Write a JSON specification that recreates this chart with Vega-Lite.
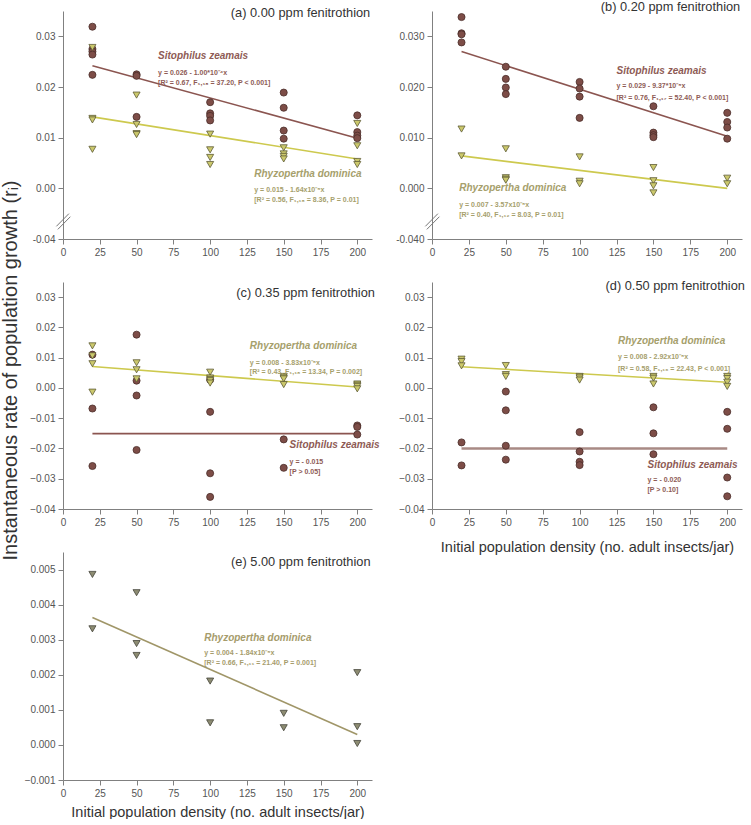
{
  "$schema": "https://vega.github.io/schema/vega-lite/v6.json",
  "background": "white",
  "padding": {"left": 0, "top": 0, "right": 0, "bottom": 0},
  "config": {
    "view": {"stroke": null},
    "axis": {"grid": false, "domainColor": "#808080", "tickColor": "#808080", "labelColor": "#555555", "labelFont": "Liberation Sans", "labelFontSize": 10, "tickSize": 5, "labelPadding": 3, "labelFlush": false, "titleFont": "Liberation Sans", "titleFontWeight": "normal", "titleColor": "#333333", "titleFontSize": 14.5}
  },
  "datasets": {
    "one": [{"k": 1}],
    "pts": [
      {"panel":"a","species":"Sitophilus zeamais","density":20,"r":0.0319},
      {"panel":"a","species":"Sitophilus zeamais","density":20,"r":0.0275},
      {"panel":"a","species":"Sitophilus zeamais","density":20,"r":0.0270},
      {"panel":"a","species":"Sitophilus zeamais","density":20,"r":0.0264},
      {"panel":"a","species":"Sitophilus zeamais","density":20,"r":0.0224},
      {"panel":"a","species":"Sitophilus zeamais","density":50,"r":0.0225},
      {"panel":"a","species":"Sitophilus zeamais","density":50,"r":0.0222},
      {"panel":"a","species":"Sitophilus zeamais","density":50,"r":0.0141},
      {"panel":"a","species":"Sitophilus zeamais","density":100,"r":0.0170},
      {"panel":"a","species":"Sitophilus zeamais","density":100,"r":0.0148},
      {"panel":"a","species":"Sitophilus zeamais","density":100,"r":0.0143},
      {"panel":"a","species":"Sitophilus zeamais","density":100,"r":0.0134},
      {"panel":"a","species":"Sitophilus zeamais","density":150,"r":0.0189},
      {"panel":"a","species":"Sitophilus zeamais","density":150,"r":0.0159},
      {"panel":"a","species":"Sitophilus zeamais","density":150,"r":0.0114},
      {"panel":"a","species":"Sitophilus zeamais","density":150,"r":0.0098},
      {"panel":"a","species":"Sitophilus zeamais","density":200,"r":0.0144},
      {"panel":"a","species":"Sitophilus zeamais","density":200,"r":0.0111},
      {"panel":"a","species":"Sitophilus zeamais","density":200,"r":0.0104},
      {"panel":"a","species":"Sitophilus zeamais","density":200,"r":0.0099},
      {"panel":"a","species":"Rhyzopertha dominica","density":20,"r":0.0278},
      {"panel":"a","species":"Rhyzopertha dominica","density":20,"r":0.0138},
      {"panel":"a","species":"Rhyzopertha dominica","density":20,"r":0.0135},
      {"panel":"a","species":"Rhyzopertha dominica","density":20,"r":0.0077},
      {"panel":"a","species":"Rhyzopertha dominica","density":50,"r":0.0184},
      {"panel":"a","species":"Rhyzopertha dominica","density":50,"r":0.0126},
      {"panel":"a","species":"Rhyzopertha dominica","density":50,"r":0.0108},
      {"panel":"a","species":"Rhyzopertha dominica","density":50,"r":0.0106},
      {"panel":"a","species":"Rhyzopertha dominica","density":100,"r":0.0107},
      {"panel":"a","species":"Rhyzopertha dominica","density":100,"r":0.0076},
      {"panel":"a","species":"Rhyzopertha dominica","density":100,"r":0.0061},
      {"panel":"a","species":"Rhyzopertha dominica","density":100,"r":0.0047},
      {"panel":"a","species":"Rhyzopertha dominica","density":150,"r":0.0080},
      {"panel":"a","species":"Rhyzopertha dominica","density":150,"r":0.0068},
      {"panel":"a","species":"Rhyzopertha dominica","density":150,"r":0.0063},
      {"panel":"a","species":"Rhyzopertha dominica","density":150,"r":0.0058},
      {"panel":"a","species":"Rhyzopertha dominica","density":200,"r":0.0128},
      {"panel":"a","species":"Rhyzopertha dominica","density":200,"r":0.0084},
      {"panel":"a","species":"Rhyzopertha dominica","density":200,"r":0.0053},
      {"panel":"a","species":"Rhyzopertha dominica","density":200,"r":0.0047},

      {"panel":"b","species":"Sitophilus zeamais","density":20,"r":0.0338},
      {"panel":"b","species":"Sitophilus zeamais","density":20,"r":0.0306},
      {"panel":"b","species":"Sitophilus zeamais","density":20,"r":0.0304},
      {"panel":"b","species":"Sitophilus zeamais","density":20,"r":0.0288},
      {"panel":"b","species":"Sitophilus zeamais","density":50,"r":0.0240},
      {"panel":"b","species":"Sitophilus zeamais","density":50,"r":0.0216},
      {"panel":"b","species":"Sitophilus zeamais","density":50,"r":0.0199},
      {"panel":"b","species":"Sitophilus zeamais","density":50,"r":0.0186},
      {"panel":"b","species":"Sitophilus zeamais","density":100,"r":0.0210},
      {"panel":"b","species":"Sitophilus zeamais","density":100,"r":0.0197},
      {"panel":"b","species":"Sitophilus zeamais","density":100,"r":0.0181},
      {"panel":"b","species":"Sitophilus zeamais","density":100,"r":0.0139},
      {"panel":"b","species":"Sitophilus zeamais","density":150,"r":0.0162},
      {"panel":"b","species":"Sitophilus zeamais","density":150,"r":0.0110},
      {"panel":"b","species":"Sitophilus zeamais","density":150,"r":0.0105},
      {"panel":"b","species":"Sitophilus zeamais","density":150,"r":0.0101},
      {"panel":"b","species":"Sitophilus zeamais","density":200,"r":0.0149},
      {"panel":"b","species":"Sitophilus zeamais","density":200,"r":0.0131},
      {"panel":"b","species":"Sitophilus zeamais","density":200,"r":0.0120},
      {"panel":"b","species":"Sitophilus zeamais","density":200,"r":0.0098},
      {"panel":"b","species":"Rhyzopertha dominica","density":20,"r":0.0117},
      {"panel":"b","species":"Rhyzopertha dominica","density":20,"r":0.0064},
      {"panel":"b","species":"Rhyzopertha dominica","density":50,"r":0.0078},
      {"panel":"b","species":"Rhyzopertha dominica","density":50,"r":0.0021},
      {"panel":"b","species":"Rhyzopertha dominica","density":50,"r":0.0018},
      {"panel":"b","species":"Rhyzopertha dominica","density":50,"r":0.0016},
      {"panel":"b","species":"Rhyzopertha dominica","density":100,"r":0.0062},
      {"panel":"b","species":"Rhyzopertha dominica","density":100,"r":0.0014},
      {"panel":"b","species":"Rhyzopertha dominica","density":100,"r":0.0009},
      {"panel":"b","species":"Rhyzopertha dominica","density":150,"r":0.0041},
      {"panel":"b","species":"Rhyzopertha dominica","density":150,"r":0.0015},
      {"panel":"b","species":"Rhyzopertha dominica","density":150,"r":0.0005},
      {"panel":"b","species":"Rhyzopertha dominica","density":150,"r":-0.0009},
      {"panel":"b","species":"Rhyzopertha dominica","density":200,"r":0.0020},
      {"panel":"b","species":"Rhyzopertha dominica","density":200,"r":0.0009},

      {"panel":"c","species":"Sitophilus zeamais","density":20,"r":0.0110},
      {"panel":"c","species":"Sitophilus zeamais","density":20,"r":-0.0068},
      {"panel":"c","species":"Sitophilus zeamais","density":20,"r":-0.0258},
      {"panel":"c","species":"Sitophilus zeamais","density":50,"r":0.0176},
      {"panel":"c","species":"Sitophilus zeamais","density":50,"r":0.0024},
      {"panel":"c","species":"Sitophilus zeamais","density":50,"r":-0.0025},
      {"panel":"c","species":"Sitophilus zeamais","density":50,"r":-0.0205},
      {"panel":"c","species":"Sitophilus zeamais","density":100,"r":0.0027},
      {"panel":"c","species":"Sitophilus zeamais","density":100,"r":-0.0079},
      {"panel":"c","species":"Sitophilus zeamais","density":100,"r":-0.0282},
      {"panel":"c","species":"Sitophilus zeamais","density":100,"r":-0.0360},
      {"panel":"c","species":"Sitophilus zeamais","density":150,"r":-0.0170},
      {"panel":"c","species":"Sitophilus zeamais","density":150,"r":-0.0264},
      {"panel":"c","species":"Sitophilus zeamais","density":200,"r":-0.0124},
      {"panel":"c","species":"Sitophilus zeamais","density":200,"r":-0.0129},
      {"panel":"c","species":"Sitophilus zeamais","density":200,"r":-0.0154},
      {"panel":"c","species":"Rhyzopertha dominica","density":20,"r":0.0139},
      {"panel":"c","species":"Rhyzopertha dominica","density":20,"r":0.0106},
      {"panel":"c","species":"Rhyzopertha dominica","density":20,"r":0.0080},
      {"panel":"c","species":"Rhyzopertha dominica","density":20,"r":-0.0014},
      {"panel":"c","species":"Rhyzopertha dominica","density":50,"r":0.0083},
      {"panel":"c","species":"Rhyzopertha dominica","density":50,"r":0.0060},
      {"panel":"c","species":"Rhyzopertha dominica","density":50,"r":0.0030},
      {"panel":"c","species":"Rhyzopertha dominica","density":100,"r":0.0052},
      {"panel":"c","species":"Rhyzopertha dominica","density":100,"r":0.0033},
      {"panel":"c","species":"Rhyzopertha dominica","density":100,"r":0.0028},
      {"panel":"c","species":"Rhyzopertha dominica","density":100,"r":0.0024},
      {"panel":"c","species":"Rhyzopertha dominica","density":100,"r":0.0016},
      {"panel":"c","species":"Rhyzopertha dominica","density":150,"r":0.0038},
      {"panel":"c","species":"Rhyzopertha dominica","density":150,"r":0.0033},
      {"panel":"c","species":"Rhyzopertha dominica","density":150,"r":0.0030},
      {"panel":"c","species":"Rhyzopertha dominica","density":150,"r":0.0011},
      {"panel":"c","species":"Rhyzopertha dominica","density":200,"r":0.0013},
      {"panel":"c","species":"Rhyzopertha dominica","density":200,"r":0.0009},
      {"panel":"c","species":"Rhyzopertha dominica","density":200,"r":0.0005},
      {"panel":"c","species":"Rhyzopertha dominica","density":200,"r":-0.0003},

      {"panel":"d","species":"Sitophilus zeamais","density":20,"r":-0.0180},
      {"panel":"d","species":"Sitophilus zeamais","density":20,"r":-0.0256},
      {"panel":"d","species":"Sitophilus zeamais","density":50,"r":-0.0012},
      {"panel":"d","species":"Sitophilus zeamais","density":50,"r":-0.0074},
      {"panel":"d","species":"Sitophilus zeamais","density":50,"r":-0.0191},
      {"panel":"d","species":"Sitophilus zeamais","density":50,"r":-0.0237},
      {"panel":"d","species":"Sitophilus zeamais","density":100,"r":-0.0146},
      {"panel":"d","species":"Sitophilus zeamais","density":100,"r":-0.0210},
      {"panel":"d","species":"Sitophilus zeamais","density":100,"r":-0.0244},
      {"panel":"d","species":"Sitophilus zeamais","density":100,"r":-0.0255},
      {"panel":"d","species":"Sitophilus zeamais","density":150,"r":-0.0064},
      {"panel":"d","species":"Sitophilus zeamais","density":150,"r":-0.0150},
      {"panel":"d","species":"Sitophilus zeamais","density":150,"r":-0.0219},
      {"panel":"d","species":"Sitophilus zeamais","density":200,"r":-0.0079},
      {"panel":"d","species":"Sitophilus zeamais","density":200,"r":-0.0135},
      {"panel":"d","species":"Sitophilus zeamais","density":200,"r":-0.0296},
      {"panel":"d","species":"Sitophilus zeamais","density":200,"r":-0.0358},
      {"panel":"d","species":"Rhyzopertha dominica","density":20,"r":0.0095},
      {"panel":"d","species":"Rhyzopertha dominica","density":20,"r":0.0087},
      {"panel":"d","species":"Rhyzopertha dominica","density":20,"r":0.0073},
      {"panel":"d","species":"Rhyzopertha dominica","density":50,"r":0.0074},
      {"panel":"d","species":"Rhyzopertha dominica","density":50,"r":0.0044},
      {"panel":"d","species":"Rhyzopertha dominica","density":50,"r":0.0038},
      {"panel":"d","species":"Rhyzopertha dominica","density":100,"r":0.0038},
      {"panel":"d","species":"Rhyzopertha dominica","density":100,"r":0.0033},
      {"panel":"d","species":"Rhyzopertha dominica","density":100,"r":0.0026},
      {"panel":"d","species":"Rhyzopertha dominica","density":150,"r":0.0038},
      {"panel":"d","species":"Rhyzopertha dominica","density":150,"r":0.0032},
      {"panel":"d","species":"Rhyzopertha dominica","density":150,"r":0.0013},
      {"panel":"d","species":"Rhyzopertha dominica","density":200,"r":0.0038},
      {"panel":"d","species":"Rhyzopertha dominica","density":200,"r":0.0031},
      {"panel":"d","species":"Rhyzopertha dominica","density":200,"r":0.0019},
      {"panel":"d","species":"Rhyzopertha dominica","density":200,"r":0.0005},

      {"panel":"e","species":"Rhyzopertha dominica","density":20,"r":0.00486},
      {"panel":"e","species":"Rhyzopertha dominica","density":20,"r":0.00331},
      {"panel":"e","species":"Rhyzopertha dominica","density":50,"r":0.00434},
      {"panel":"e","species":"Rhyzopertha dominica","density":50,"r":0.00289},
      {"panel":"e","species":"Rhyzopertha dominica","density":50,"r":0.00255},
      {"panel":"e","species":"Rhyzopertha dominica","density":100,"r":0.00182},
      {"panel":"e","species":"Rhyzopertha dominica","density":100,"r":0.00063},
      {"panel":"e","species":"Rhyzopertha dominica","density":150,"r":0.00090},
      {"panel":"e","species":"Rhyzopertha dominica","density":150,"r":0.00049},
      {"panel":"e","species":"Rhyzopertha dominica","density":200,"r":0.00206},
      {"panel":"e","species":"Rhyzopertha dominica","density":200,"r":0.00052},
      {"panel":"e","species":"Rhyzopertha dominica","density":200,"r":0.00004}
    ],
    "fits": [
      {"panel":"a","species":"Sitophilus zeamais","density":20,"r":0.0242},
      {"panel":"a","species":"Sitophilus zeamais","density":200,"r":0.0099},
      {"panel":"a","species":"Rhyzopertha dominica","density":20,"r":0.0141},
      {"panel":"a","species":"Rhyzopertha dominica","density":200,"r":0.0058},
      {"panel":"b","species":"Sitophilus zeamais","density":20,"r":0.0270},
      {"panel":"b","species":"Sitophilus zeamais","density":200,"r":0.0103},
      {"panel":"b","species":"Rhyzopertha dominica","density":20,"r":0.0064},
      {"panel":"b","species":"Rhyzopertha dominica","density":200,"r":0.0000},
      {"panel":"c","species":"Sitophilus zeamais","density":20,"r":-0.0151},
      {"panel":"c","species":"Sitophilus zeamais","density":200,"r":-0.0151},
      {"panel":"c","species":"Rhyzopertha dominica","density":20,"r":0.0071},
      {"panel":"c","species":"Rhyzopertha dominica","density":200,"r":0.0003},
      {"panel":"d","species":"Sitophilus zeamais","density":20,"r":-0.0200},
      {"panel":"d","species":"Sitophilus zeamais","density":200,"r":-0.0200},
      {"panel":"d","species":"Rhyzopertha dominica","density":20,"r":0.0070},
      {"panel":"d","species":"Rhyzopertha dominica","density":200,"r":0.0019},
      {"panel":"e","species":"Rhyzopertha dominica","density":20,"r":0.00363},
      {"panel":"e","species":"Rhyzopertha dominica","density":200,"r":0.00030}
    ]
  },
  "bounds": "flush",
  "columns": 2,
  "spacing": {"row": 43, "column": 60},
  "concat": [
        {
          "width": 309, "height": 228,
          "layer": [
            {"data": {"name": "fits"}, "transform": [{"filter": "datum.panel == 'a'"}], "mark": {"type": "line", "strokeWidth": 1.6},
             "encoding": {
               "x": {"field": "density", "type": "quantitative", "scale": {"domain": [0, 210], "nice": false, "zero": false}, "axis": {"values": [0,25,50,75,100,125,150,175,200], "title": null}},
               "y": {"field": "r", "type": "quantitative", "scale": {"domain": [-0.01, 0.035], "nice": false, "zero": false}, "axis": {"values": [-0.01, 0, 0.01, 0.02, 0.03], "labelExpr": "datum.value < -0.005 ? '-0.04' : format(datum.value, '.2f')", "title": null}},
               "detail": {"field": "species"}, "color": {"condition": {"test": "datum.species == 'Sitophilus zeamais'", "value": "#8b5550"}, "value": "#cdc94e"}}},
            {"data": {"name": "pts"}, "transform": [{"filter": "datum.panel == 'a'"}], "mark": {"type": "point", "filled": true, "size": 50, "strokeWidth": 0.8, "opacity": 1},
             "encoding": {
               "x": {"field": "density", "type": "quantitative", "axis": {"values": [0,25,50,75,100,125,150,175,200], "title": null}},
               "y": {"field": "r", "type": "quantitative", "axis": {"values": [-0.01, 0, 0.01, 0.02, 0.03], "labelExpr": "datum.value < -0.005 ? '-0.04' : format(datum.value, '.2f')", "title": null}},
               "shape": {"condition": {"test": "datum.species == 'Sitophilus zeamais'", "value": "circle"}, "value": "triangle-down"},
               "fill": {"condition": {"test": "datum.species == 'Sitophilus zeamais'", "value": "#7d4d47"}, "value": "#cbc86c"},
               "stroke": {"condition": {"test": "datum.species == 'Sitophilus zeamais'", "value": "#4a2d29"}, "value": "#5e5c36"}}},
            {"data": {"name": "one"}, "mark": {"type": "text", "text": "(a) 0.00 ppm fenitrothion", "align": "right", "baseline": "middle", "font": "Liberation Sans", "fontSize": 12.8, "color": "#333333"},
             "encoding": {"x": {"datum": 208.8, "axis": {"values": [0,25,50,75,100,125,150,175,200], "title": null}}, "y": {"datum": 0.0346, "axis": {"values": [-0.01, 0, 0.01, 0.02, 0.03], "labelExpr": "datum.value < -0.005 ? '-0.04' : format(datum.value, '.2f')", "title": null}}}},
            {"data": {"name": "one"}, "mark": {"type": "text", "text": "Sitophilus zeamais", "align": "left", "baseline": "middle", "font": "Liberation Sans", "fontSize": 10, "fontWeight": "bold", "fontStyle": "italic", "color": "#8e5b55"},
             "encoding": {"x": {"datum": 64.6, "axis": {"values": [0,25,50,75,100,125,150,175,200], "title": null}}, "y": {"datum": 0.0262, "axis": {"values": [-0.01, 0, 0.01, 0.02, 0.03], "labelExpr": "datum.value < -0.005 ? '-0.04' : format(datum.value, '.2f')", "title": null}}}},
            {"data": {"name": "one"}, "mark": {"type": "text", "text": ["y = 0.026 - 1.00*10⁻⁴x", "[R² = 0.67, F₁,₁₈ = 37.20, P < 0.001]"], "lineHeight": 10, "align": "left", "baseline": "middle", "font": "Liberation Sans", "fontSize": 7, "fontWeight": "bold", "color": "#8e5b55"},
             "encoding": {"x": {"datum": 64.6, "axis": {"values": [0,25,50,75,100,125,150,175,200], "title": null}}, "y": {"datum": 0.0228, "axis": {"values": [-0.01, 0, 0.01, 0.02, 0.03], "labelExpr": "datum.value < -0.005 ? '-0.04' : format(datum.value, '.2f')", "title": null}}}},
            {"data": {"name": "one"}, "mark": {"type": "text", "text": "Rhyzopertha dominica", "align": "left", "baseline": "middle", "font": "Liberation Sans", "fontSize": 10, "fontWeight": "bold", "fontStyle": "italic", "color": "#a6a06c"},
             "encoding": {"x": {"datum": 130, "axis": {"values": [0,25,50,75,100,125,150,175,200], "title": null}}, "y": {"datum": 0.0028, "axis": {"values": [-0.01, 0, 0.01, 0.02, 0.03], "labelExpr": "datum.value < -0.005 ? '-0.04' : format(datum.value, '.2f')", "title": null}}}},
            {"data": {"name": "one"}, "mark": {"type": "text", "text": ["y = 0.015 - 1.64x10⁻⁵x", "[R² = 0.56, F₁,₁₈ = 8.36, P = 0.01]"], "lineHeight": 10, "align": "left", "baseline": "middle", "font": "Liberation Sans", "fontSize": 7, "fontWeight": "bold", "color": "#a6a06c"},
             "encoding": {"x": {"datum": 130, "axis": {"values": [0,25,50,75,100,125,150,175,200], "title": null}}, "y": {"datum": -0.0004, "axis": {"values": [-0.01, 0, 0.01, 0.02, 0.03], "labelExpr": "datum.value < -0.005 ? '-0.04' : format(datum.value, '.2f')", "title": null}}}},
            {"data": {"name": "one"}, "mark": {"type": "rule", "color": "#777777", "strokeWidth": 1},
             "encoding": {"x": {"datum": -4.5, "axis": {"values": [0,25,50,75,100,125,150,175,200], "title": null}}, "x2": {"datum": 4}, "y": {"datum": -0.0075, "axis": {"values": [-0.01, 0, 0.01, 0.02, 0.03], "labelExpr": "datum.value < -0.005 ? '-0.04' : format(datum.value, '.2f')", "title": null}}, "y2": {"datum": -0.0050}}},
            {"data": {"name": "one"}, "mark": {"type": "rule", "color": "#777777", "strokeWidth": 1},
             "encoding": {"x": {"datum": -3.5, "axis": {"values": [0,25,50,75,100,125,150,175,200], "title": null}}, "x2": {"datum": 5}, "y": {"datum": -0.0081, "axis": {"values": [-0.01, 0, 0.01, 0.02, 0.03], "labelExpr": "datum.value < -0.005 ? '-0.04' : format(datum.value, '.2f')", "title": null}}, "y2": {"datum": -0.0056}}}
          ]
        },
        {
          "width": 310, "height": 228,
          "layer": [
            {"data": {"name": "fits"}, "transform": [{"filter": "datum.panel == 'b'"}], "mark": {"type": "line", "strokeWidth": 1.6},
             "encoding": {
               "x": {"field": "density", "type": "quantitative", "scale": {"domain": [0, 210], "nice": false, "zero": false}, "axis": {"values": [0,25,50,75,100,125,150,175,200], "title": null}},
               "y": {"field": "r", "type": "quantitative", "scale": {"domain": [-0.01, 0.035], "nice": false, "zero": false}, "axis": {"values": [-0.01, 0, 0.01, 0.02, 0.03], "labelExpr": "datum.value < -0.005 ? '-0.040' : format(datum.value, '.3f')", "title": null}},
               "detail": {"field": "species"}, "color": {"condition": {"test": "datum.species == 'Sitophilus zeamais'", "value": "#8b5550"}, "value": "#cdc94e"}}},
            {"data": {"name": "pts"}, "transform": [{"filter": "datum.panel == 'b'"}], "mark": {"type": "point", "filled": true, "size": 50, "strokeWidth": 0.8, "opacity": 1},
             "encoding": {
               "x": {"field": "density", "type": "quantitative", "axis": {"values": [0,25,50,75,100,125,150,175,200], "title": null}},
               "y": {"field": "r", "type": "quantitative", "axis": {"values": [-0.01, 0, 0.01, 0.02, 0.03], "labelExpr": "datum.value < -0.005 ? '-0.040' : format(datum.value, '.3f')", "title": null}},
               "shape": {"condition": {"test": "datum.species == 'Sitophilus zeamais'", "value": "circle"}, "value": "triangle-down"},
               "fill": {"condition": {"test": "datum.species == 'Sitophilus zeamais'", "value": "#7d4d47"}, "value": "#cbc86c"},
               "stroke": {"condition": {"test": "datum.species == 'Sitophilus zeamais'", "value": "#4a2d29"}, "value": "#5e5c36"}}},
            {"data": {"name": "one"}, "mark": {"type": "text", "text": "(b) 0.20 ppm fenitrothion", "align": "right", "baseline": "middle", "font": "Liberation Sans", "fontSize": 12.8, "color": "#333333"},
             "encoding": {"x": {"datum": 208.8, "axis": {"values": [0,25,50,75,100,125,150,175,200], "title": null}}, "y": {"datum": 0.0358, "axis": {"values": [-0.01, 0, 0.01, 0.02, 0.03], "labelExpr": "datum.value < -0.005 ? '-0.040' : format(datum.value, '.3f')", "title": null}}}},
            {"data": {"name": "one"}, "mark": {"type": "text", "text": "Sitophilus zeamais", "align": "left", "baseline": "middle", "font": "Liberation Sans", "fontSize": 10, "fontWeight": "bold", "fontStyle": "italic", "color": "#8e5b55"},
             "encoding": {"x": {"datum": 125, "axis": {"values": [0,25,50,75,100,125,150,175,200], "title": null}}, "y": {"datum": 0.0232, "axis": {"values": [-0.01, 0, 0.01, 0.02, 0.03], "labelExpr": "datum.value < -0.005 ? '-0.040' : format(datum.value, '.3f')", "title": null}}}},
            {"data": {"name": "one"}, "mark": {"type": "text", "text": ["y = 0.029 - 9.37*10⁻⁵x", "[R² = 0.76, F₁,₁₇ = 52.40, P < 0.001]"], "lineHeight": 12, "align": "left", "baseline": "middle", "font": "Liberation Sans", "fontSize": 7, "fontWeight": "bold", "color": "#8e5b55"},
             "encoding": {"x": {"datum": 125, "axis": {"values": [0,25,50,75,100,125,150,175,200], "title": null}}, "y": {"datum": 0.0201, "axis": {"values": [-0.01, 0, 0.01, 0.02, 0.03], "labelExpr": "datum.value < -0.005 ? '-0.040' : format(datum.value, '.3f')", "title": null}}}},
            {"data": {"name": "one"}, "mark": {"type": "text", "text": "Rhyzopertha dominica", "align": "left", "baseline": "middle", "font": "Liberation Sans", "fontSize": 10, "fontWeight": "bold", "fontStyle": "italic", "color": "#a6a06c"},
             "encoding": {"x": {"datum": 18.4, "axis": {"values": [0,25,50,75,100,125,150,175,200], "title": null}}, "y": {"datum": 0.0, "axis": {"values": [-0.01, 0, 0.01, 0.02, 0.03], "labelExpr": "datum.value < -0.005 ? '-0.040' : format(datum.value, '.3f')", "title": null}}}},
            {"data": {"name": "one"}, "mark": {"type": "text", "text": ["y = 0.007 - 3.57x10⁻⁵x", "[R² = 0.40, F₁,₁₂ = 8.03, P = 0.01]"], "lineHeight": 10, "align": "left", "baseline": "middle", "font": "Liberation Sans", "fontSize": 7, "fontWeight": "bold", "color": "#a6a06c"},
             "encoding": {"x": {"datum": 18.4, "axis": {"values": [0,25,50,75,100,125,150,175,200], "title": null}}, "y": {"datum": -0.00325, "axis": {"values": [-0.01, 0, 0.01, 0.02, 0.03], "labelExpr": "datum.value < -0.005 ? '-0.040' : format(datum.value, '.3f')", "title": null}}}},
            {"data": {"name": "one"}, "mark": {"type": "rule", "color": "#777777", "strokeWidth": 1},
             "encoding": {"x": {"datum": -4.5, "axis": {"values": [0,25,50,75,100,125,150,175,200], "title": null}}, "x2": {"datum": 4}, "y": {"datum": -0.0075, "axis": {"values": [-0.01, 0, 0.01, 0.02, 0.03], "labelExpr": "datum.value < -0.005 ? '-0.040' : format(datum.value, '.3f')", "title": null}}, "y2": {"datum": -0.0050}}},
            {"data": {"name": "one"}, "mark": {"type": "rule", "color": "#777777", "strokeWidth": 1},
             "encoding": {"x": {"datum": -3.5, "axis": {"values": [0,25,50,75,100,125,150,175,200], "title": null}}, "x2": {"datum": 5}, "y": {"datum": -0.0081, "axis": {"values": [-0.01, 0, 0.01, 0.02, 0.03], "labelExpr": "datum.value < -0.005 ? '-0.040' : format(datum.value, '.3f')", "title": null}}, "y2": {"datum": -0.0056}}}
          ]
        },
        {
          "width": 309, "height": 227,
          "layer": [
            {"data": {"name": "fits"}, "transform": [{"filter": "datum.panel == 'c'"}], "mark": {"type": "line", "strokeWidth": 1.6},
             "encoding": {
               "x": {"field": "density", "type": "quantitative", "scale": {"domain": [0, 210], "nice": false, "zero": false}, "axis": {"values": [0,25,50,75,100,125,150,175,200], "title": null}},
               "y": {"field": "r", "type": "quantitative", "scale": {"domain": [-0.04, 0.035], "nice": false, "zero": false}, "axis": {"values": [-0.04, -0.03, -0.02, -0.01, 0, 0.01, 0.02, 0.03], "format": ".2f", "title": "Instantaneous rate of population growth (rᵢ)", "titleFontSize": 20, "titleY": 88, "titlePadding": 9}},
               "detail": {"field": "species"}, "color": {"condition": {"test": "datum.species == 'Sitophilus zeamais'", "value": "#8b5550"}, "value": "#cdc94e"}}},
            {"data": {"name": "pts"}, "transform": [{"filter": "datum.panel == 'c'"}], "mark": {"type": "point", "filled": true, "size": 50, "strokeWidth": 0.8, "opacity": 1},
             "encoding": {
               "x": {"field": "density", "type": "quantitative", "axis": {"values": [0,25,50,75,100,125,150,175,200], "title": null}},
               "y": {"field": "r", "type": "quantitative", "axis": {"values": [-0.04, -0.03, -0.02, -0.01, 0, 0.01, 0.02, 0.03], "format": ".2f", "title": "Instantaneous rate of population growth (rᵢ)", "titleFontSize": 20, "titleY": 88, "titlePadding": 9}},
               "shape": {"condition": {"test": "datum.species == 'Sitophilus zeamais'", "value": "circle"}, "value": "triangle-down"},
               "fill": {"condition": {"test": "datum.species == 'Sitophilus zeamais'", "value": "#7d4d47"}, "value": "#cbc86c"},
               "stroke": {"condition": {"test": "datum.species == 'Sitophilus zeamais'", "value": "#4a2d29"}, "value": "#5e5c36"}}},
            {"data": {"name": "one"}, "mark": {"type": "text", "text": "(c) 0.35 ppm fenitrothion", "align": "right", "baseline": "middle", "font": "Liberation Sans", "fontSize": 12.8, "color": "#333333"},
             "encoding": {"x": {"datum": 212, "axis": {"values": [0,25,50,75,100,125,150,175,200], "title": null}}, "y": {"datum": 0.0314, "axis": {"values": [-0.04, -0.03, -0.02, -0.01, 0, 0.01, 0.02, 0.03], "format": ".2f", "title": "Instantaneous rate of population growth (rᵢ)", "titleFontSize": 20, "titleY": 88, "titlePadding": 9}}}},
            {"data": {"name": "one"}, "mark": {"type": "text", "text": "Rhyzopertha dominica", "align": "left", "baseline": "middle", "font": "Liberation Sans", "fontSize": 10, "fontWeight": "bold", "fontStyle": "italic", "color": "#a6a06c"},
             "encoding": {"x": {"datum": 127, "axis": {"values": [0,25,50,75,100,125,150,175,200], "title": null}}, "y": {"datum": 0.0139, "axis": {"values": [-0.04, -0.03, -0.02, -0.01, 0, 0.01, 0.02, 0.03], "format": ".2f", "title": "Instantaneous rate of population growth (rᵢ)", "titleFontSize": 20, "titleY": 88, "titlePadding": 9}}}},
            {"data": {"name": "one"}, "mark": {"type": "text", "text": ["y = 0.008 - 3.83x10⁻⁵x", "[R² = 0.43, F₁,₁₈ = 13.34, P = 0.002]"], "lineHeight": 9.5, "align": "left", "baseline": "middle", "font": "Liberation Sans", "fontSize": 7, "fontWeight": "bold", "color": "#a6a06c"},
             "encoding": {"x": {"datum": 127, "axis": {"values": [0,25,50,75,100,125,150,175,200], "title": null}}, "y": {"datum": 0.00835, "axis": {"values": [-0.04, -0.03, -0.02, -0.01, 0, 0.01, 0.02, 0.03], "format": ".2f", "title": "Instantaneous rate of population growth (rᵢ)", "titleFontSize": 20, "titleY": 88, "titlePadding": 9}}}},
            {"data": {"name": "one"}, "mark": {"type": "text", "text": "Sitophilus zeamais", "align": "left", "baseline": "middle", "font": "Liberation Sans", "fontSize": 10, "fontWeight": "bold", "fontStyle": "italic", "color": "#8e5b55"},
             "encoding": {"x": {"datum": 154, "axis": {"values": [0,25,50,75,100,125,150,175,200], "title": null}}, "y": {"datum": -0.0189, "axis": {"values": [-0.04, -0.03, -0.02, -0.01, 0, 0.01, 0.02, 0.03], "format": ".2f", "title": "Instantaneous rate of population growth (rᵢ)", "titleFontSize": 20, "titleY": 88, "titlePadding": 9}}}},
            {"data": {"name": "one"}, "mark": {"type": "text", "text": ["y = - 0.015", "[P > 0.05]"], "lineHeight": 10, "align": "left", "baseline": "middle", "font": "Liberation Sans", "fontSize": 7, "fontWeight": "bold", "color": "#8e5b55"},
             "encoding": {"x": {"datum": 154, "axis": {"values": [0,25,50,75,100,125,150,175,200], "title": null}}, "y": {"datum": -0.02435, "axis": {"values": [-0.04, -0.03, -0.02, -0.01, 0, 0.01, 0.02, 0.03], "format": ".2f", "title": "Instantaneous rate of population growth (rᵢ)", "titleFontSize": 20, "titleY": 88, "titlePadding": 9}}}}
          ]
        },
        {
          "width": 310, "height": 227,
          "layer": [
            {"data": {"name": "fits"}, "transform": [{"filter": "datum.panel == 'd'"}], "mark": {"type": "line"},
             "encoding": {
               "x": {"field": "density", "type": "quantitative", "scale": {"domain": [0, 210], "nice": false, "zero": false}, "axis": {"values": [0,25,50,75,100,125,150,175,200], "title": "Initial population density (no. adult insects/jar)", "titlePadding": 13}},
               "y": {"field": "r", "type": "quantitative", "scale": {"domain": [-0.04, 0.035], "nice": false, "zero": false}, "axis": {"values": [-0.04, -0.03, -0.02, -0.01, 0, 0.01, 0.02, 0.03], "format": ".2f", "title": null}},
               "detail": {"field": "species"},
               "color": {"condition": {"test": "datum.species == 'Sitophilus zeamais'", "value": "#a88a85"}, "value": "#cdc94e"},
               "strokeWidth": {"condition": {"test": "datum.species == 'Sitophilus zeamais'", "value": 2.5}, "value": 1.6}}},
            {"data": {"name": "pts"}, "transform": [{"filter": "datum.panel == 'd'"}], "mark": {"type": "point", "filled": true, "size": 50, "strokeWidth": 0.8, "opacity": 1},
             "encoding": {
               "x": {"field": "density", "type": "quantitative", "axis": {"values": [0,25,50,75,100,125,150,175,200], "title": "Initial population density (no. adult insects/jar)", "titlePadding": 13}},
               "y": {"field": "r", "type": "quantitative", "axis": {"values": [-0.04, -0.03, -0.02, -0.01, 0, 0.01, 0.02, 0.03], "format": ".2f", "title": null}},
               "shape": {"condition": {"test": "datum.species == 'Sitophilus zeamais'", "value": "circle"}, "value": "triangle-down"},
               "fill": {"condition": {"test": "datum.species == 'Sitophilus zeamais'", "value": "#7d4d47"}, "value": "#cbc86c"},
               "stroke": {"condition": {"test": "datum.species == 'Sitophilus zeamais'", "value": "#4a2d29"}, "value": "#5e5c36"}}},
            {"data": {"name": "one"}, "mark": {"type": "text", "text": "(d) 0.50 ppm fenitrothion", "align": "right", "baseline": "middle", "font": "Liberation Sans", "fontSize": 12.8, "color": "#333333"},
             "encoding": {"x": {"datum": 212, "axis": {"values": [0,25,50,75,100,125,150,175,200], "title": "Initial population density (no. adult insects/jar)", "titlePadding": 13}}, "y": {"datum": 0.0337, "axis": {"values": [-0.04, -0.03, -0.02, -0.01, 0, 0.01, 0.02, 0.03], "format": ".2f", "title": null}}}},
            {"data": {"name": "one"}, "mark": {"type": "text", "text": "Rhyzopertha dominica", "align": "left", "baseline": "middle", "font": "Liberation Sans", "fontSize": 10, "fontWeight": "bold", "fontStyle": "italic", "color": "#a6a06c"},
             "encoding": {"x": {"datum": 126, "axis": {"values": [0,25,50,75,100,125,150,175,200], "title": "Initial population density (no. adult insects/jar)", "titlePadding": 13}}, "y": {"datum": 0.0156, "axis": {"values": [-0.04, -0.03, -0.02, -0.01, 0, 0.01, 0.02, 0.03], "format": ".2f", "title": null}}}},
            {"data": {"name": "one"}, "mark": {"type": "text", "text": ["y = 0.008 - 2.92x10⁻⁵x", "[R² = 0.58, F₁,₁₆ = 22.43, P < 0.001]"], "lineHeight": 12, "align": "left", "baseline": "middle", "font": "Liberation Sans", "fontSize": 7, "fontWeight": "bold", "color": "#a6a06c"},
             "encoding": {"x": {"datum": 126, "axis": {"values": [0,25,50,75,100,125,150,175,200], "title": "Initial population density (no. adult insects/jar)", "titlePadding": 13}}, "y": {"datum": 0.01035, "axis": {"values": [-0.04, -0.03, -0.02, -0.01, 0, 0.01, 0.02, 0.03], "format": ".2f", "title": null}}}},
            {"data": {"name": "one"}, "mark": {"type": "text", "text": "Sitophilus zeamais", "align": "left", "baseline": "middle", "font": "Liberation Sans", "fontSize": 10, "fontWeight": "bold", "fontStyle": "italic", "color": "#8e5b55"},
             "encoding": {"x": {"datum": 146, "axis": {"values": [0,25,50,75,100,125,150,175,200], "title": "Initial population density (no. adult insects/jar)", "titlePadding": 13}}, "y": {"datum": -0.0253, "axis": {"values": [-0.04, -0.03, -0.02, -0.01, 0, 0.01, 0.02, 0.03], "format": ".2f", "title": null}}}},
            {"data": {"name": "one"}, "mark": {"type": "text", "text": ["y = - 0.020", "[P > 0.10]"], "lineHeight": 10, "align": "left", "baseline": "middle", "font": "Liberation Sans", "fontSize": 7, "fontWeight": "bold", "color": "#8e5b55"},
             "encoding": {"x": {"datum": 146, "axis": {"values": [0,25,50,75,100,125,150,175,200], "title": "Initial population density (no. adult insects/jar)", "titlePadding": 13}}, "y": {"datum": -0.03045, "axis": {"values": [-0.04, -0.03, -0.02, -0.01, 0, 0.01, 0.02, 0.03], "format": ".2f", "title": null}}}}
          ]
        },
    {
      "width": 309, "height": 228,
      "layer": [
        {"data": {"name": "fits"}, "transform": [{"filter": "datum.panel == 'e'"}], "mark": {"type": "line", "strokeWidth": 1.6, "color": "#a09668"},
         "encoding": {
           "x": {"field": "density", "type": "quantitative", "scale": {"domain": [0, 210], "nice": false, "zero": false}, "axis": {"values": [0,25,50,75,100,125,150,175,200], "title": "Initial population density (no. adult insects/jar)", "titlePadding": 7}},
           "y": {"field": "r", "type": "quantitative", "scale": {"domain": [-0.001, 0.0055], "nice": false, "zero": false}, "axis": {"values": [-0.001, 0, 0.001, 0.002, 0.003, 0.004, 0.005], "format": ".3f", "title": null}}}},
        {"data": {"name": "pts"}, "transform": [{"filter": "datum.panel == 'e'"}], "mark": {"type": "point", "filled": true, "shape": "triangle-down", "size": 50, "strokeWidth": 0.8, "opacity": 1, "fill": "#8d8c72", "stroke": "#44443a"},
         "encoding": {"x": {"field": "density", "type": "quantitative", "axis": {"values": [0,25,50,75,100,125,150,175,200], "title": "Initial population density (no. adult insects/jar)", "titlePadding": 7}}, "y": {"field": "r", "type": "quantitative", "axis": {"values": [-0.001, 0, 0.001, 0.002, 0.003, 0.004, 0.005], "format": ".3f", "title": null}}}},
        {"data": {"name": "one"}, "mark": {"type": "text", "text": "(e) 5.00 ppm fenitrothion", "align": "right", "baseline": "middle", "font": "Liberation Sans", "fontSize": 12.8, "color": "#333333"},
         "encoding": {"x": {"datum": 209, "axis": {"values": [0,25,50,75,100,125,150,175,200], "title": "Initial population density (no. adult insects/jar)", "titlePadding": 7}}, "y": {"datum": 0.00522, "axis": {"values": [-0.001, 0, 0.001, 0.002, 0.003, 0.004, 0.005], "format": ".3f", "title": null}}}},
        {"data": {"name": "one"}, "mark": {"type": "text", "text": "Rhyzopertha dominica", "align": "left", "baseline": "middle", "font": "Liberation Sans", "fontSize": 10, "fontWeight": "bold", "fontStyle": "italic", "color": "#a69c6c"},
         "encoding": {"x": {"datum": 96, "axis": {"values": [0,25,50,75,100,125,150,175,200], "title": "Initial population density (no. adult insects/jar)", "titlePadding": 7}}, "y": {"datum": 0.00305, "axis": {"values": [-0.001, 0, 0.001, 0.002, 0.003, 0.004, 0.005], "format": ".3f", "title": null}}}},
        {"data": {"name": "one"}, "mark": {"type": "text", "text": ["y = 0.004 - 1.84x10⁻⁵x", "[R² = 0.66, F₁,₁₁ = 21.40, P = 0.001]"], "lineHeight": 10.5, "align": "left", "baseline": "middle", "font": "Liberation Sans", "fontSize": 7, "fontWeight": "bold", "color": "#a69c6c"},
         "encoding": {"x": {"datum": 96, "axis": {"values": [0,25,50,75,100,125,150,175,200], "title": "Initial population density (no. adult insects/jar)", "titlePadding": 7}}, "y": {"datum": 0.00263, "axis": {"values": [-0.001, 0, 0.001, 0.002, 0.003, 0.004, 0.005], "format": ".3f", "title": null}}}}
      ]
    }
  ]
}
